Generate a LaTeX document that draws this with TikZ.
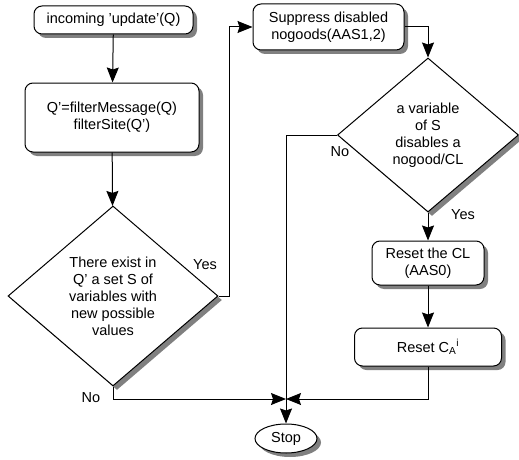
\documentclass[tikz,border=0pt]{standalone}
\usepackage{fontspec}
\setmainfont{Liberation Sans}
\usetikzlibrary{arrows.meta,shapes.geometric,shadows}
\tikzset{
    %Define style for shadows
    shadowed/.style={
           drop shadow={shadow xshift=4pt, shadow yshift=-4pt,
                        fill=black!50, opacity=1}},
    %Define style for boxes
    proc/.style={
           rectangle,
           rounded corners=8pt,
           draw=black, line width=1pt,
           fill=white,
           font=\fontsize{14.5}{17}\selectfont,
           align=center,
           inner sep=2pt,
           shadowed},
    decision/.style={
           diamond,
           draw=black, line width=1pt,
           fill=white,
           font=\fontsize{14.5}{17}\selectfont,
           align=center,
           inner sep=0pt,
           shadowed},
    term/.style={
           ellipse,
           draw=black, line width=1pt,
           fill=white,
           font=\fontsize{14.5}{17}\selectfont,
           inner sep=0pt,
           minimum width=62pt,
           minimum height=29pt,
           shadowed},
    lbl/.style={
           font=\fontsize{14.5}{17}\selectfont,
           inner sep=0pt},
    % Define arrow style
    pil/.style={
           -{Stealth[length=15pt,width=12pt,inset=2pt]},
           line width=1pt}
}

\begin{document}
\begin{tikzpicture}[x=1pt,y=-1pt]
\useasboundingbox (0,0) rectangle (519,460);
\node[proc, minimum width=159pt, minimum height=28pt] (in) at (113.5,20) {incoming 'update'(Q)};
\node[proc, minimum width=174pt, minimum height=69pt] (filt) at (112,117.5) {Q'=filterMessage(Q)\\filterSite(Q')};
\node[decision, minimum width=210pt, minimum height=180pt] (d1) at (113,296) {There exist in\\Q' a set S of\\variables with\\new possible\\values};
\node[proc, minimum width=151pt, minimum height=46pt] (supp) at (328.5,27) {Suppress disabled\\nogoods(AAS1,2)};
\node[decision, minimum width=181pt, minimum height=154pt] (d2) at (428,135) {a variable\\of S\\disables a\\nogood/CL};
\node[proc, minimum width=112pt, minimum height=44pt] (cl) at (428,263) {Reset the CL\\(AAS0)};
\node[proc, minimum width=147pt, minimum height=38pt] (ca) at (428,347) {Reset C\textsubscript{A}\textsuperscript{i}};
\node[term] (stop) at (286,438.5) {Stop};
\coordinate (join) at (286,399);

\node[lbl] (yes1) at (205,265) {Yes};
\node[lbl] (no1) at (91,398) {No};
\node[lbl] (no2) at (340,152) {No};
\node[lbl] (yes2) at (463,215) {Yes};

\draw[pil] (in) -- (filt);
\draw[pil] (filt) -- (d1);
\draw[pil] (d1.east) -- ++(11,0) |- (supp.west);
\draw[pil] (supp.east) -| (d2.north);
\draw[pil] (d2.south) -- (cl.north);
\draw[pil] (cl) -- (ca);
\draw[pil] (d2.west) -| (stop.north);
\draw[pil] (d1.south) |- (join);
\draw[pil] (ca.south) |- (join);
\end{tikzpicture}
\end{document}
